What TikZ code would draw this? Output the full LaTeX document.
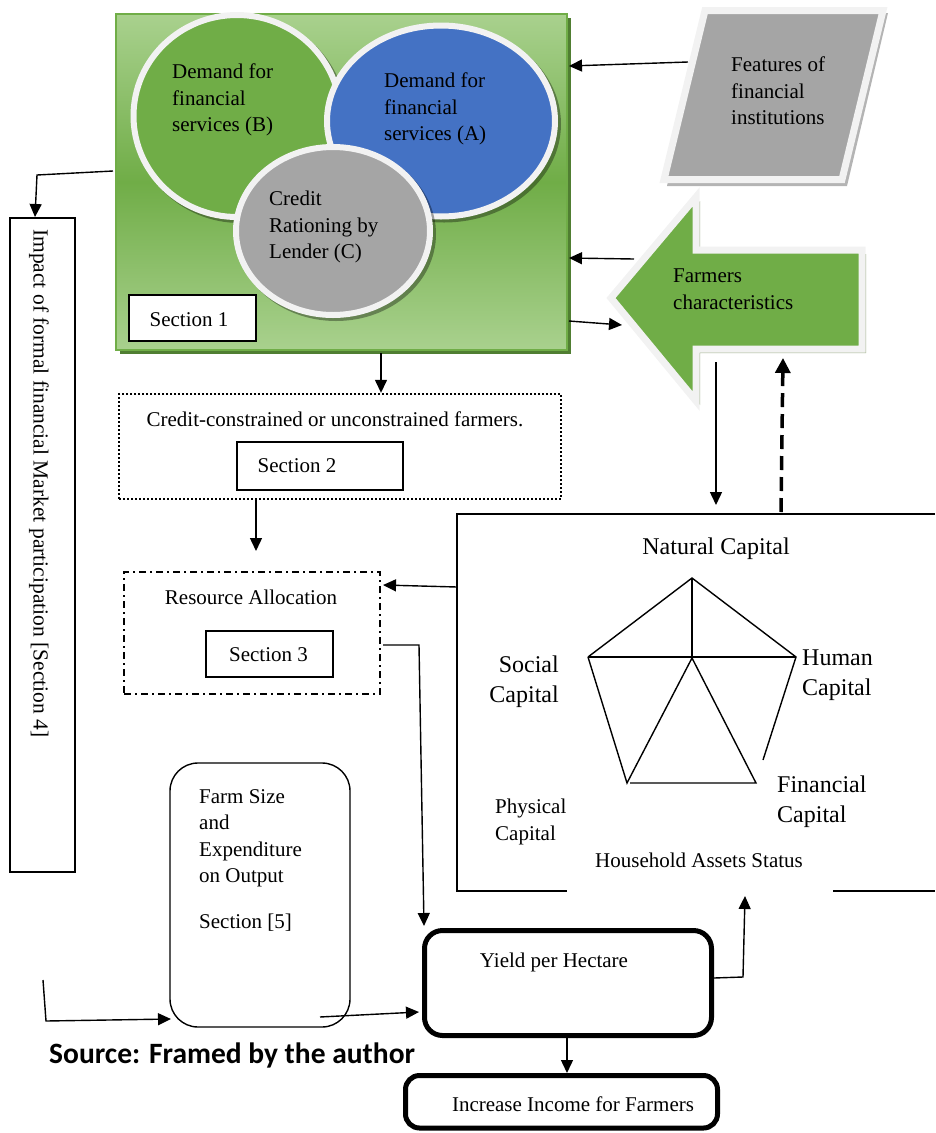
\documentclass[tikz,border=0pt]{standalone}
\usepackage{fontspec}
\setmainfont{Liberation Serif}
\newfontfamily\srcfont{Carlito}
\usetikzlibrary{shapes.geometric,arrows.meta,calc}
\definecolor{lgreen}{HTML}{A9D18E}
\definecolor{mgreen}{HTML}{70AD47}
\definecolor{dgreen}{HTML}{507E32}
\definecolor{blueA}{HTML}{4472C4}
\definecolor{grayC}{HTML}{A5A5A5}
\definecolor{rim}{HTML}{F2F2F2}
\definecolor{shgray}{HTML}{B4B4B4}
\definecolor{shgreen}{HTML}{A3B38F}
\newcommand{\myfs}[2]{\fontsize{#1}{#2}\selectfont}
\begin{document}
\begin{tikzpicture}[x=1pt,y=-1pt,
  txt/.style={inner sep=0pt, font=\myfs{21}{26.5}, align=left},
  bigtxt/.style={inner sep=0pt, font=\myfs{24}{29.5}},
  ell/.style={ellipse, draw=rim, line width=6pt, inner sep=0pt},
  secbox/.style={draw=black, fill=white, line width=1.4pt, inner sep=0pt},
  arr/.style={-{Triangle[length=13pt,width=12pt]}, line width=1.4pt},
  plain/.style={line width=1.4pt},
  dasharr/.style={-{Triangle[length=15pt,width=15pt]}, line width=3.5pt, dash pattern=on 14pt off 7pt},
  thickbox/.style={draw=black, line width=5pt, inner sep=0pt}]
\useasboundingbox (0,0) rectangle (935,1133);

% ---------- Section 1 box ----------
\fill[dgreen] (120,18) rectangle (571,354);
\node[draw=mgreen, line width=2pt, top color=lgreen, bottom color=lgreen, middle color=mgreen,
      minimum width=451pt, minimum height=336pt, inner sep=0pt] (s1box) at (341.5,182) {};

% ellipses with shadows
\fill[black, opacity=.35] (240,119) ellipse (106.5 and 104);
\node[ell, fill=mgreen, minimum width=207pt, minimum height=202pt] (ellB) at (237,116) {};
\fill[black, opacity=.35] (444,124) ellipse (117 and 98.5);
\node[ell, fill=blueA, minimum width=228pt, minimum height=191pt] (ellA) at (441,121) {};
\fill[black, opacity=.35] (336,234) ellipse (100 and 87);
\node[ell, fill=grayC, minimum width=194pt, minimum height=168pt] (ellC) at (333,231) {};

\node[txt, anchor=north west] (tB) at (172,64) {Demand for\\financial\\services (B)};
\node[txt, anchor=north west] (tA) at (384,73) {Demand for\\financial\\services (A)};
\node[txt, anchor=north west] (tC) at (269,191) {Credit\\Rationing by\\Lender (C)};

\node[secbox, minimum width=127pt, minimum height=46pt] (sec1) at (192.5,318) {};
\node[txt] (sec1t) at (189,320) {Section 1};

% ---------- Features parallelogram ----------
\fill[shgray] (708,13) -- (888,13) -- (847,186) -- (667,186) -- cycle;
\draw[fill=grayC, draw=rim, line width=7pt, line join=miter] (705,10.5) -- (883,10.5) -- (842,179.5) -- (664,179.5) -- cycle;
\node[txt, anchor=north west] (feat) at (731,57) {Features of\\financial\\institutions};

% ---------- Farmers characteristics arrow ----------
\fill[shgreen] (615,302) -- (700,201) -- (700,254) -- (866,254) -- (866,353) -- (700,353) -- (700,405) -- cycle;
\draw[fill=mgreen, draw=rim, line width=7pt, line join=miter] (611,298) -- (696,197) -- (696,250) -- (862,250) -- (862,349) -- (696,349) -- (696,401) -- cycle;
\node[txt, anchor=north west] (farm) at (673,269) {Farmers\\characteristics};

% ---------- Impact box ----------
\node[draw=black, line width=1.4pt, minimum width=65pt, minimum height=654pt, inner sep=0pt] (impact) at (42.5,545) {};
\node[txt, rotate=-90, anchor=west, font=\myfs{21.5}{26}] (impactt) at (39,229) {Impact of formal financial Market participation [Section 4]};

% ---------- Section 2 ----------
\node[draw=black, line width=2.4pt, dash pattern=on 2pt off 2pt, minimum width=442pt, minimum height=105pt, inner sep=0pt] (cc) at (340,446.5) {};
\node[txt] (cct) at (335,419) {Credit-constrained or unconstrained farmers.};
\node[secbox, minimum width=166pt, minimum height=48pt] (sec2) at (320,466) {};
\node[txt] (sec2t) at (297,466) {Section 2};

% ---------- Section 3 ----------
\node[draw=black, line width=1.5pt, dash pattern=on 7pt off 4pt on 2pt off 4pt, minimum width=256pt, minimum height=122pt, inner sep=0pt] (ra) at (252,633) {};
\node[txt] (rat) at (251,597) {Resource Allocation};
\node[secbox, minimum width=127pt, minimum height=46pt] (sec3) at (269.5,654) {};
\node[txt] (sec3t) at (268.5,655) {Section 3};

% ---------- Household box ----------
\coordinate (hTL) at (457,514);
\coordinate (hTR) at (935,514);
\coordinate (hBL) at (457,891);
\coordinate (hB1) at (567,891);
\coordinate (hB2) at (833,891);
\coordinate (hBR) at (935,891);
\draw[plain] (hTR) -- (hTL) -- (hBL) -- (hB1);
\draw[plain] (hB2) -- (hBR);

% pentagon
\coordinate (pT) at (692,578);
\coordinate (pL) at (588,657);
\coordinate (pR) at (796,657);
\coordinate (pC) at (692,658);
\coordinate (pBL) at (627,783);
\coordinate (pBR) at (756,783);
\coordinate (pRe) at (763,760);
\draw[plain, line join=miter] (pL) -- (pT) -- (pR) -- (pRe);
\draw[plain] (pT) -- (pC);
\draw[plain] (pL) -- (pR);
\draw[plain] (pL) -- (pBL) -- (pC) -- (pBR) -- (630,783);

\node[bigtxt] (nat) at (716,549) {Natural Capital};
\node[bigtxt, anchor=north east, align=right] (soc) at (559,656) {Social\\Capital};
\node[bigtxt, anchor=north west, align=left] (hum) at (802,650) {Human\\Capital};
\node[bigtxt, anchor=north west, align=left] (fin) at (777,776) {Financial\\Capital};
\node[txt, anchor=north west, font=\myfs{21}{27}] (phy) at (495,799) {Physical\\Capital};
\node[txt] (hhs) at (699,860) {Household Assets Status};

% ---------- bottom boxes ----------
\node[draw=black, line width=1.4pt, rounded corners=28pt, minimum width=180pt, minimum height=264pt, inner sep=0pt] (farmbox) at (260,895) {};
\node[txt, anchor=north west] (farmt) at (199,789) {Farm Size\\and\\Expenditure\\on Output\\[19pt]Section [5]};

\node[thickbox, rounded corners=18pt, minimum width=287pt, minimum height=105pt] (yield) at (568,983) {};
\node[txt] (yieldt) at (554,962) {Yield per Hectare};

\node[thickbox, rounded corners=14pt, minimum width=312pt, minimum height=52.5pt] (inc) at (561.5,1101.75) {};
\node[txt] (inct) at (573,1104) {Increase Income for Farmers};

\node[inner sep=0pt, anchor=base west, font=\srcfont\bfseries\myfs{29.5}{33}] (src) at (49,1063) {Source: Framed by the author};

% ---------- connectors ----------
\coordinate (a1s) at (688,62);   \coordinate (a1e) at (569,66);
\draw[arr] (a1s) -- (a1e);
\coordinate (a2s) at (634,259);  \coordinate (a2e) at (569,258);
\draw[arr] (a2s) -- (a2e);
\coordinate (a3s) at (569,321);  \coordinate (a3e) at (622,325);
\draw[arr] (a3s) -- (a3e);
\coordinate (a4s) at (381,353);
\draw[arr] (a4s) -- (cc.north -| a4s);
\coordinate (a5s) at (113,171);  \coordinate (a5m) at (37,175);
\draw[arr] (a5s) -- (a5m) -- (35,217);
\coordinate (a6s) at (256,500);
\draw[arr] (a6s) -- (256,551);
\coordinate (a7s) at (457,587);  \coordinate (a7e) at (383,585);
\draw[arr] (a7s) -- (a7e);
\coordinate (a8s) at (383,645);  \coordinate (a8m) at (419,645);  \coordinate (a8e) at (424,926);
\draw[arr] (a8s) -- (a8m) -- (a8e);
\coordinate (a9s) at (716,362);  \coordinate (a9e) at (716,505);
\draw[arr] (a9s) -- (a9e);
\coordinate (a10s) at (781,512); \coordinate (a10e) at (783,358);
\draw[dasharr] (a10s) -- (a10e);
\coordinate (a11s) at (714,978); \coordinate (a11m) at (743,977); \coordinate (a11e) at (745,896);
\draw[arr] (a11s) -- (a11m) -- (a11e);
\coordinate (a12s) at (320,1017); \coordinate (a12e) at (419,1012);
\draw[arr] (a12s) -- (a12e);
\coordinate (a13s) at (43,980); \coordinate (a13m) at (46,1021); \coordinate (a13e) at (171,1019);
\draw[arr] (a13s) -- (a13m) -- (a13e);
\coordinate (a14s) at (567,1033);
\draw[arr] (a14s) -- (inc.north -| a14s);
\end{tikzpicture}
\end{document}
